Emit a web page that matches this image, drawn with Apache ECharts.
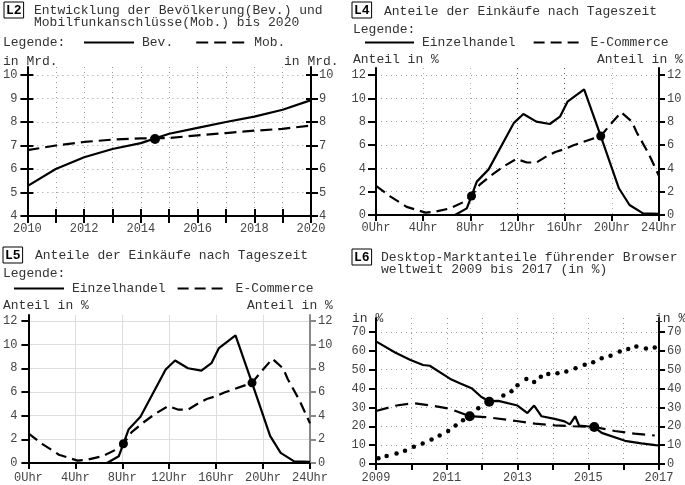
<!DOCTYPE html>
<html><head><meta charset="utf-8">
<script src="https://cdn.jsdelivr.net/npm/echarts@6/dist/echarts.min.js"></script>
<style>html,body{margin:0;padding:0;background:#fff}#c{width:685px;height:485px}</style>
</head><body><div id="c"></div>
<script>
// ---------- L2: Bevölkerung / Mobilfunkanschlüsse ----------
const l2Years = [2010, 2011, 2012, 2013, 2014, 2015, 2016, 2017, 2018, 2019, 2020];
const l2Bev = [5.27, 6.0, 6.5, 6.85, 7.1, 7.5, 7.75, 8.0, 8.23, 8.52, 8.93];
const l2Mob = [6.8, 7.0, 7.15, 7.25, 7.3, 7.32, 7.43, 7.53, 7.63, 7.71, 7.85];
const l2Cross = [[2014.5, 7.28]];
const l2YTicks = [4, 5, 6, 7, 8, 9, 10];
const l2XLabels = [2010, 2012, 2014, 2016, 2018, 2020];

// ---------- L4 / L5: Anteile der Einkäufe nach Tageszeit ----------
const hoursEinzel = [0, 1, 2, 3, 4, 5, 6, 6.7, 7.7, 8.1, 8.55, 9.55, 11.7, 12.5, 13.6, 14.74, 15.6, 16.24, 17.65, 19.06, 20.6, 21.5, 22.65, 24];
const einzelhandel = [0, 0, 0, 0, 0, 0, 0, 0, 0.57, 1.63, 2.86, 3.91, 7.9, 8.66, 8.0, 7.8, 8.43, 9.71, 10.77, 6.77, 2.29, 0.86, 0.14, 0.09];
const hoursEcom = [0, 1.2, 2.6, 4.2, 5.1, 6.3, 7.4, 8.1, 8.8, 9.7, 10.8, 11.9, 12.8, 13.6, 14.5, 15.2, 16.0, 16.7, 17.4, 19.06, 20.0, 20.8, 21.7, 22.1, 23.1, 24];
const eCommerce = [2.5, 1.6, 0.7, 0.2, 0.3, 0.57, 1.1, 1.63, 2.6, 3.35, 4.15, 4.8, 4.5, 4.5, 5.05, 5.4, 5.65, 5.95, 6.2, 6.77, 7.9, 8.8, 8.0, 7.1, 5.3, 3.35];
const shopCross = [[8.1, 1.63], [19.06, 6.77]];
const hourTicks = [0, 4, 8, 12, 16, 20, 24];
const shareTicks = [0, 2, 4, 6, 8, 10, 12];

// ---------- L6: Desktop-Marktanteile Browser ----------
const ieYears = [2009, 2009.54, 2009.96, 2010.33, 2010.52, 2011.1, 2011.37, 2011.7, 2011.98, 2012.2, 2012.46, 2013.0, 2013.28, 2013.47, 2013.68, 2014.05, 2014.33, 2014.48, 2014.63, 2014.74, 2015.17, 2015.38, 2016.04, 2016.5, 2016.9, 2017];
const ieShare = [65, 59.1, 55.3, 52.5, 52.1, 45.1, 42.8, 40.2, 35.5, 33.3, 33.5, 31.0, 27.0, 31.0, 25.3, 23.9, 22.6, 21.0, 25.3, 20.4, 19.6, 16.5, 12.3, 10.9, 10.0, 9.8];
const ffYears = [2009, 2009.58, 2010.05, 2010.57, 2011.08, 2011.65, 2012.1, 2012.97, 2013.5, 2014.05, 2014.58, 2015.17, 2015.75, 2016.31, 2016.88];
const ffShare = [28.1, 31.0, 32.3, 31.0, 29.3, 25.3, 24.9, 22.8, 21.4, 20.5, 20.0, 19.6, 17.5, 16.1, 15.1];
const chYears = [2009.07, 2009.3, 2009.58, 2009.82, 2010.07, 2010.32, 2010.57, 2010.8, 2011.04, 2011.25, 2011.46, 2011.65, 2011.89, 2012.2, 2012.6, 2012.83, 2013.0, 2013.25, 2013.47, 2013.66, 2013.87, 2014.13, 2014.38, 2014.64, 2014.9, 2015.14, 2015.38, 2015.63, 2015.89, 2016.13, 2016.36, 2016.63, 2016.88];
const chShare = [3.0, 4.2, 5.6, 7.0, 9.1, 10.9, 13.0, 15.1, 17.5, 20.4, 23.2, 25.3, 29.5, 33.0, 36.3, 38.6, 41.8, 45.1, 43.5, 46.3, 47.7, 48.1, 49.1, 50.7, 52.6, 54.0, 56.1, 57.4, 59.6, 60.9, 62.3, 61.2, 61.8];
const browserCross = [[2011.65, 25.3], [2012.2, 33.0], [2015.17, 19.6]];
const l6XTicks = [2009, 2010, 2011, 2012, 2013, 2014, 2015, 2016, 2017];
const l6XLabels = [2009, 2011, 2013, 2015, 2017];
const l6YTicks = [0, 10, 20, 30, 40, 50, 60, 70];

const zip = (xs, ys) => xs.map((x, i) => [x, ys[i]]);
const FONT = 'Liberation Mono';
const TXT = '#333';
const LBL = '#444';
const dotted = { color: '#999', width: 1, type: [1, 4] };
const plain = v => String(v);

function xAxis(grid, min, max, ticks, labels, opt) {
  opt = opt || {};
  return {
    type: 'value', gridIndex: grid, min: min, max: max, position: 'bottom',
    axisLine: { show: true, onZero: false, lineStyle: { color: opt.axisColor || '#000', width: 2 } },
    axisTick: { show: true, inside: false, length: opt.tickLen || 6, customValues: ticks, lineStyle: { color: '#000', width: 2 } },
    axisLabel: { show: true, customValues: labels, margin: opt.margin || 7, fontFamily: FONT, fontSize: 12, color: LBL, formatter: opt.fmt || plain },
    splitLine: { show: true, lineStyle: opt.split || dotted }
  };
}
function yAxis(grid, min, max, ticks, pos, opt) {
  opt = opt || {};
  return {
    type: 'value', gridIndex: grid, min: min, max: max, position: pos,
    axisLine: { show: true, onZero: false, lineStyle: { color: opt.axisColor || '#000', width: 2 } },
    axisTick: { show: true, inside: false, length: opt.tickLen || 7, customValues: ticks, lineStyle: { color: opt.axisColor || '#000', width: 2 } },
    axisLabel: { show: true, customValues: ticks, margin: opt.margin || 10, fontFamily: FONT, fontSize: 12, color: LBL, formatter: plain },
    splitLine: { show: pos === 'left', lineStyle: opt.split || dotted }
  };
}
function innerAxis(grid, min, max, ticks, pos, len) {
  return {
    type: 'value', gridIndex: grid, min: min, max: max, position: pos,
    axisLine: { show: false, onZero: false },
    axisTick: { show: true, inside: true, length: len, customValues: ticks, lineStyle: { color: '#000', width: 2 } },
    axisLabel: { show: false }, splitLine: { show: false }
  };
}
function line(name, xi, yi, data, dash) {
  return { type: 'line', name: name, xAxisIndex: xi, yAxisIndex: yi, data: data, symbol: 'none',
    lineStyle: { color: '#000', width: 2.2, type: dash || 'solid' }, itemStyle: { color: '#000' }, z: 3 };
}
function dots(name, xi, yi, data, size) {
  return { type: 'scatter', name: name, xAxisIndex: xi, yAxisIndex: yi, data: data, symbol: 'circle',
    symbolSize: size, itemStyle: { color: '#000', opacity: 1 }, z: 5 };
}
function t(text, left, top) {
  return { text: text, left: left, top: top, padding: 0,
    textStyle: { fontFamily: FONT, fontSize: 13, fontWeight: 'normal', color: TXT, lineHeight: 12 } };
}
function box(label, left, top) {
  return { text: '{b|' + label + '}', left: left, top: top, padding: 0,
    textStyle: { rich: { b: { fontFamily: FONT, fontSize: 13, fontWeight: 'bold', color: '#000',
      borderColor: '#000', borderWidth: 1, padding: [2, 2, 1, 2], lineHeight: 14 } } } };
}
function legend(left, top, names, itemW, gap) {
  return { left: left, top: top, padding: 0, itemWidth: itemW, itemHeight: 14, itemGap: gap,
    selectedMode: false, data: names, itemStyle: { opacity: 0 },
    textStyle: { fontFamily: FONT, fontSize: 13, color: TXT, padding: [0, 0, 0, 3] } };
}

const l4Split = { color: ['#aaa', '#aaa', '#aaa', '#555', '#555', '#aaa', '#aaa'], width: 1, type: [1, 4] };
const l5Split = { color: '#ddd', width: 1, type: 'solid' };

const option = {
  animation: false,
  backgroundColor: '#fff',
  title: [
    box('L2', 4, 3),
    t('Entwicklung der Bevölkerung(Bev.) und\nMobilfunkanschlüsse(Mob.) bis 2020', 34, 5),
    t('Legende:', 3, 37),
    t('in Mrd.', 3, 56),
    t('in Mrd.', 284, 56),
    box('L4', 352, 3),
    t('Anteile der Einkäufe nach Tageszeit', 384, 6),
    t('Legende:', 353, 24),
    t('Anteil in %', 353, 54),
    t('Anteil in %', 597, 54),
    box('L5', 3, 248),
    t('Anteile der Einkäufe nach Tageszeit', 35, 250),
    t('Legende:', 3, 268),
    t('Anteil in %', 3, 300),
    t('Anteil in %', 247, 300),
    box('L6', 352, 250),
    t('Desktop-Marktanteile führender Browser\nweltweit 2009 bis 2017 (in %)', 381, 252),
    t('in %', 352, 313),
    t('in %', 655, 313)
  ],
  legend: [
    legend(83, 36, ['Bev.', 'Mob.'], 50, 22),
    legend(364, 36, ['Einzelhandel', 'E-Commerce'], 49, 17),
    legend(13, 282, ['Einzelhandel', 'E-Commerce'], 50, 11)
  ],
  grid: [
    { left: 27, top: 67, width: 284, height: 149 },
    { left: 376, top: 68, width: 283, height: 147 },
    { left: 26, top: 315, width: 284, height: 148 },
    { left: 376, top: 318, width: 283, height: 146 }
  ],
  xAxis: [
    xAxis(0, 2010, 2020, l2Years, l2XLabels, { tickLen: 7, margin: 7 }),
    innerAxis(0, 2010, 2020, l2Years, 'bottom', 7),
    xAxis(1, 0, 24, hourTicks, hourTicks, { fmt: v => v + 'Uhr', split: l4Split, margin: 7 }),
    xAxis(2, 0, 24, hourTicks, hourTicks, { fmt: v => v + 'Uhr', split: l5Split, margin: 9 }),
    xAxis(3, 2009, 2017, l6XTicks, l6XLabels, { margin: 8 })
  ],
  yAxis: [
    yAxis(0, 4, 10.34, l2YTicks, 'left', { margin: 10 }),
    yAxis(0, 4, 10.34, l2YTicks, 'right', { margin: 8 }),
    innerAxis(0, 4, 10.34, l2YTicks, 'left', 6),
    innerAxis(0, 4, 10.34, l2YTicks, 'right', 5),
    yAxis(1, 0, 12.6, shareTicks, 'left', { margin: 10, tickLen: 8 }),
    yAxis(1, 0, 12.6, shareTicks, 'right', { margin: 8, tickLen: 6 }),
    yAxis(2, 0, 12.5, shareTicks, 'left', { margin: 11, tickLen: 7, split: l5Split }),
    yAxis(2, 0, 12.5, shareTicks, 'right', { margin: 8, tickLen: 6, axisColor: '#888' }),
    yAxis(3, 0, 77.4, l6YTicks, 'left', { margin: 10, tickLen: 7 }),
    yAxis(3, 0, 77.4, l6YTicks, 'right', { margin: 8, tickLen: 6 })
  ],
  series: [
    line('Bev.', 0, 0, zip(l2Years, l2Bev)),
    line('Mob.', 0, 0, zip(l2Years, l2Mob), [12, 6]),
    dots('l2dot', 0, 0, l2Cross, 10),
    line('Einzelhandel', 2, 4, zip(hoursEinzel, einzelhandel)),
    line('E-Commerce', 2, 4, zip(hoursEcom, eCommerce), [11, 6]),
    dots('l4dot', 2, 4, shopCross, 9),
    line('Einzelhandel', 3, 6, zip(hoursEinzel, einzelhandel)),
    line('E-Commerce', 3, 6, zip(hoursEcom, eCommerce), [11, 6]),
    dots('l5dot', 3, 6, shopCross, 9),
    line('Internet Explorer', 4, 8, zip(ieYears, ieShare)),
    line('Firefox', 4, 8, zip(ffYears, ffShare), [13, 7]),
    dots('Chrome', 4, 8, zip(chYears, chShare), 4.5),
    dots('l6dot', 4, 8, browserCross, 10)
  ]
};
const chart = echarts.init(document.getElementById('c'), null, { renderer: 'canvas' });
chart.setOption(option);
</script></body></html>
